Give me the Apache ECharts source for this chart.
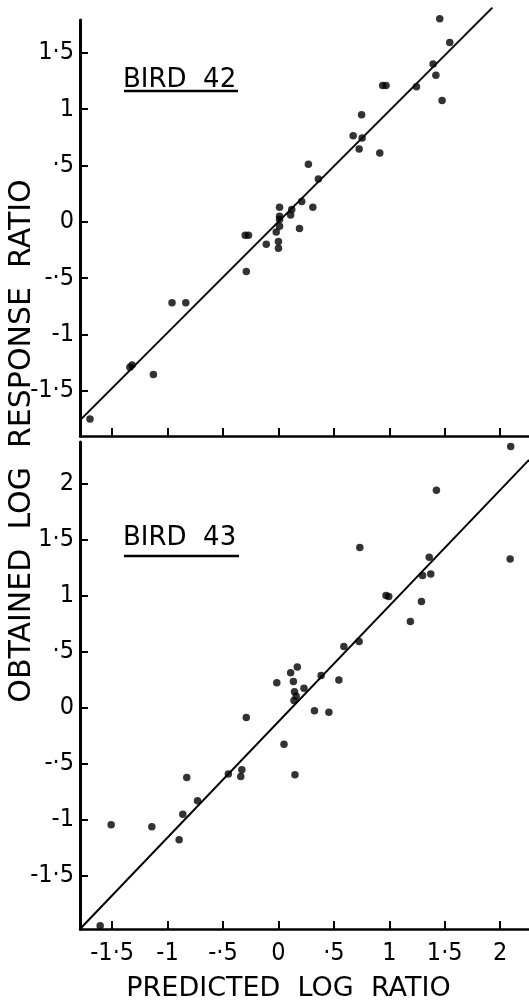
<!DOCTYPE html>
<html>
<head>
<meta charset="utf-8">
<script src="https://cdn.jsdelivr.net/npm/echarts@6/dist/echarts.min.js"></script>
<style>
html,body{margin:0;padding:0;background:#fff;}
#chart{width:529px;height:1003px;}
</style>
</head>
<body>
<div id="chart"></div>
<script>
// ---- data ----
const tickValuesX = [-1.5, -1, -0.5, 0, 0.5, 1, 1.5, 2];
const tickLabelsX = ['-1·5', '-1', '-·5', '0', '·5', '1', '1·5', '2'];
const tickValuesY1 = [-1.5, -1, -0.5, 0, 0.5, 1, 1.5];
const tickValuesY2 = [-1.5, -1, -0.5, 0, 0.5, 1, 1.5, 2];
const tickValuesAll = [-1.5, -1, -0.5, 0, 0.5, 1, 1.5, 2];
const tickLabelsAll = ['-1·5', '-1', '-·5', '0', '·5', '1', '1·5', '2'];

const panelTitles = ['BIRD  42', 'BIRD  43'];
const xAxisName = 'PREDICTED  LOG  RATIO';
const yAxisName = 'OBTAINED  LOG  RESPONSE  RATIO';

// Bird 42: [predicted, obtained]
const bird42 = [
  [1.455, 1.80], [1.545, 1.59], [1.395, 1.40], [1.42, 1.30], [1.476, 1.076],
  [1.245, 1.197], [0.94, 1.21], [0.97, 1.21], [0.75, 0.95], [0.674, 0.764],
  [0.755, 0.744], [0.728, 0.646], [0.914, 0.61], [0.27, 0.51], [0.36, 0.38],
  [0.01, 0.13], [0.12, 0.11], [0.21, 0.18], [0.31, 0.13], [0.01, 0.05],
  [0.01, 0.02], [0.11, 0.06], [0.01, -0.04], [-0.02, -0.09], [0.19, -0.06],
  [-0.30, -0.12], [-0.27, -0.12], [-0.11, -0.20], [0.0, -0.175], [0.0, -0.235],
  [-0.29, -0.44], [-0.96, -0.717], [-0.836, -0.717], [-1.34, -1.29], [-1.32, -1.27],
  [-1.128, -1.354], [-1.70, -1.75]
];
// Bird 43: [predicted, obtained]
const bird43 = [
  [2.095, 2.33], [1.425, 1.94], [0.734, 1.427], [2.09, 1.326], [1.36, 1.34],
  [1.30, 1.177], [1.374, 1.19], [0.97, 1.0], [0.995, 0.99], [1.29, 0.945],
  [1.19, 0.766], [0.728, 0.588], [0.59, 0.543],
  [0.17, 0.36], [0.11, 0.31], [-0.015, 0.22], [0.135, 0.23], [0.385, 0.285],
  [0.545, 0.245], [0.23, 0.17], [0.145, 0.14], [0.16, 0.10], [0.14, 0.06],
  [0.325, -0.03], [0.455, -0.045], [-0.29, -0.09], [0.05, -0.33],
  [-0.452, -0.596], [-0.33, -0.558], [-0.34, -0.618], [0.149, -0.603],
  [-0.827, -0.627], [-0.73, -0.835], [-0.863, -0.954], [-1.509, -1.049],
  [-1.142, -1.067], [-0.896, -1.183], [-1.608, -1.95]
];
// fitted lines (endpoints)
const fit42 = [[-1.78, -1.75], [1.93, 1.90]];
const fit43 = [[-1.79, -1.98], [2.26, 2.21]];

// ---- chart ----
const FONT = '"DejaVu Sans Condensed", "Liberation Sans Narrow", sans-serif';
const FONT_WIDE = '"DejaVu Sans", sans-serif';
const fmt = v => {
  const i = tickValuesAll.findIndex(t => Math.abs(t - v) < 1e-9);
  return i >= 0 ? tickLabelsAll[i] : '';
};

const axisLineX = { show: true, onZero: false, lineStyle: { color: '#000', width: 2.5 } };
const axisLineY = { show: true, onZero: false, lineStyle: { color: '#000', width: 3 } };
const tick = vals => ({ show: true, inside: true, length: 8, customValues: vals, lineStyle: { color: '#000', width: 2 } });

const chart = echarts.init(document.getElementById('chart'), null, { renderer: 'canvas' });
chart.setOption({
  backgroundColor: '#fff',
  animation: false,
  grid: [
    { left: 80, top: 20, width: 449, height: 416 },
    { left: 80, top: 442, width: 449, height: 487 }
  ],
  xAxis: [
    {
      gridIndex: 0, type: 'value', min: -1.79, max: 2.26,
      axisLine: axisLineX, axisTick: tick(tickValuesX),
      axisLabel: { show: false }, splitLine: { show: false }
    },
    {
      gridIndex: 1, type: 'value', min: -1.79, max: 2.26,
      axisLine: axisLineX, axisTick: tick(tickValuesX),
      axisLabel: { show: true, customValues: tickValuesX, formatter: fmt, margin: 12,
        color: '#000', fontFamily: FONT, fontSize: 25 },
      splitLine: { show: false },
      name: xAxisName, nameLocation: 'middle', nameGap: 46,
      nameTextStyle: { color: '#000', fontFamily: FONT_WIDE, fontSize: 27, padding: [0, 32, 0, 0] }
    }
  ],
  yAxis: [
    {
      gridIndex: 0, type: 'value', min: -1.9, max: 1.79,
      axisLine: axisLineY, axisTick: tick(tickValuesY1),
      axisLabel: { show: true, customValues: tickValuesY1, formatter: fmt, margin: 6,
        color: '#000', fontFamily: FONT, fontSize: 25 },
      splitLine: { show: false }
    },
    {
      gridIndex: 1, type: 'value', min: -1.98, max: 2.37,
      axisLine: axisLineY, axisTick: tick(tickValuesY2),
      axisLabel: { show: true, customValues: tickValuesY2, formatter: fmt, margin: 6,
        color: '#000', fontFamily: FONT, fontSize: 25 },
      splitLine: { show: false }
    }
  ],
  series: [
    { type: 'line', xAxisIndex: 0, yAxisIndex: 0, data: fit42, symbol: 'none', clip: false,
      lineStyle: { color: '#000', width: 2 } },
    { type: 'scatter', xAxisIndex: 0, yAxisIndex: 0, data: bird42, symbolSize: 7.5, clip: false,
      itemStyle: { color: '#000' } },
    { type: 'line', xAxisIndex: 1, yAxisIndex: 1, data: fit43, symbol: 'none', clip: false,
      lineStyle: { color: '#000', width: 2 } },
    { type: 'scatter', xAxisIndex: 1, yAxisIndex: 1, data: bird43, symbolSize: 7.5, clip: false,
      itemStyle: { color: '#000' } }
  ],
  graphic: [
    { type: 'text', left: 123, top: 67, style: { text: panelTitles[0], font: '26px ' + FONT_WIDE, fill: '#000' } },
    { type: 'line', shape: { x1: 124, y1: 91, x2: 238, y2: 91 }, style: { stroke: '#000', lineWidth: 2.5 } },
    { type: 'text', left: 123, top: 525, style: { text: panelTitles[1], font: '26px ' + FONT_WIDE, fill: '#000' } },
    { type: 'line', shape: { x1: 124, y1: 556, x2: 239, y2: 556 }, style: { stroke: '#000', lineWidth: 2.5 } },
    { type: 'text', x: 22, y: 441, rotation: Math.PI / 2,
      style: { text: yAxisName, font: '30px ' + FONT_WIDE, fill: '#000', align: 'center', verticalAlign: 'middle' } }
  ]
});
</script>
</body>
</html>
